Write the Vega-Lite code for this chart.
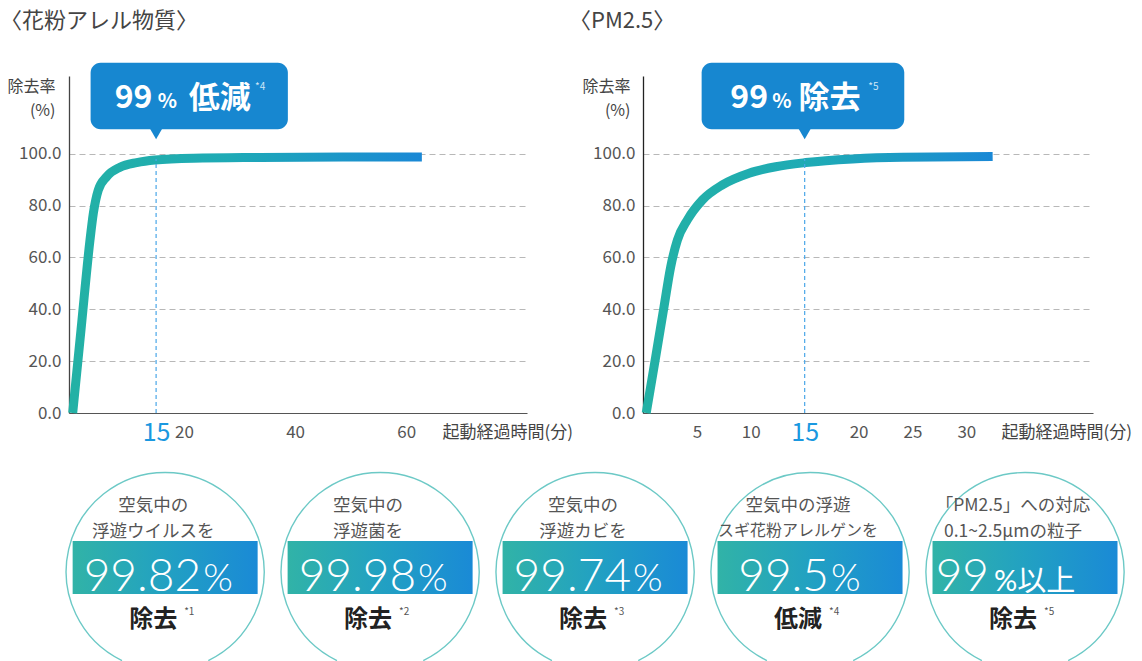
{
  "$schema": "https://vega.github.io/schema/vega-lite/v6.json",
  "background": "white",
  "padding": {"left": 0, "top": 9, "right": 0, "bottom": 0},
  "datasets": {
    "pollen": [
      {"minute": 0, "rate": 0},
      {"minute": 1.5, "rate": 32.2},
      {"minute": 3.11, "rate": 66.7},
      {"minute": 3.71, "rate": 77.0},
      {"minute": 4.6, "rate": 86.0},
      {"minute": 6.12, "rate": 91.2},
      {"minute": 8.51, "rate": 94.8},
      {"minute": 11.51, "rate": 96.6},
      {"minute": 14.8, "rate": 97.6},
      {"minute": 21.7, "rate": 98.3},
      {"minute": 33.7, "rate": 98.6},
      {"minute": 48.6, "rate": 98.8},
      {"minute": 62.8, "rate": 98.8}
    ],
    "pm25": [
      {"minute": 0.3, "rate": 0},
      {"minute": 1.18, "rate": 21.7},
      {"minute": 1.95, "rate": 41.0},
      {"minute": 2.57, "rate": 56.4},
      {"minute": 3.19, "rate": 66.7},
      {"minute": 4.12, "rate": 74.5},
      {"minute": 5.52, "rate": 82.2},
      {"minute": 7.37, "rate": 88.0},
      {"minute": 9.84, "rate": 92.5},
      {"minute": 12.32, "rate": 95.0},
      {"minute": 15.1, "rate": 96.6},
      {"minute": 19.44, "rate": 98.0},
      {"minute": 24.09, "rate": 98.65},
      {"minute": 32.44, "rate": 98.9}
    ],
    "callouts": [
      {"chart": "pollen", "minute": 15, "num": "99", "unit": "%", "verb": "低減", "note": "*4"},
      {"chart": "pm25", "minute": 15, "num": "99", "unit": "%", "verb": "除去", "note": "*5"}
    ],
    "badges": [
      {"slot": 1, "line1": "空気中の", "line2": "浮遊ウイルスを", "num": "99.82", "unit": "%", "verb": "除去", "note": "*1"},
      {"slot": 2, "line1": "空気中の", "line2": "浮遊菌を", "num": "99.98", "unit": "%", "verb": "除去", "note": "*2"},
      {"slot": 3, "line1": "空気中の", "line2": "浮遊カビを", "num": "99.74", "unit": "%", "verb": "除去", "note": "*3"},
      {"slot": 4, "line1": "空気中の浮遊", "line2": "スギ花粉アレルゲンを", "num": "99.5", "unit": "%", "verb": "低減", "note": "*4"},
      {"slot": 5, "line1": "「PM2.5」への対応", "line2": "0.1~2.5μmの粒子", "num": "99", "unit": "%以上", "verb": "除去", "note": "*5"}
    ]
  },
  "columns": 1,
  "align": "none",
  "spacing": 17,
  "concat": [
    {
      "bounds": "flush",
      "spacing": 116,
      "hconcat": [
        {
          "width": 458,
          "height": 337,
          "title": {"text": "〈花粉アレル物質〉", "anchor": "start", "frame": "group", "dx": -69, "offset": 30, "fontSize": 22, "fontWeight": "normal", "color": "#444", "font": "Noto Sans CJK JP"},
          "layer": [
            {
              "data": {"name": "pollen"},
              "mark": {"type": "line", "strokeWidth": 9, "strokeCap": "butt", "interpolate": "monotone",
                "stroke": {"gradient": "linear", "x1": 0, "y1": 0, "x2": 1, "y2": 0, "stops": [{"offset": 0, "color": "#23b1a5"}, {"offset": 0.45, "color": "#1eaab6"}, {"offset": 1, "color": "#1a88d6"}]}},
              "encoding": {
                "x": {"field": "minute", "type": "quantitative", "scale": {"domain": [-0.665, 81.71], "nice": false, "zero": false},
                  "axis": {"values": [15, 20, 40, 60], "title": "起動経過時間(分)", "titleX": 373, "titleY": 19.5, "titleAlign": "left", "titleBaseline": "middle", "titleFontSize": 17, "titleFontWeight": "normal", "titleColor": "#444",
                    "labelFontSize": {"condition": {"test": "datum.value === 15", "value": 25}, "value": 17},
                    "labelColor": {"condition": {"test": "datum.value === 15", "value": "#1a98e0"}, "value": "#555"},
                    "labelBaseline": "middle", "labelPadding": 19, "ticks": false, "grid": false, "domainColor": "#555", "domainWidth": 1.2, "labelFlush": false, "labelOverlap": false}},
                "y": {"field": "rate", "type": "quantitative", "scale": {"domain": [0, 130], "nice": false, "zero": true},
                  "axis": {"values": [0, 20, 40, 60, 80, 100], "format": ".1f", "title": ["除去率", "(%)"], "titleAngle": 0, "titleAlign": "right", "titleBaseline": "top", "titleX": -14, "titleY": 2, "titleFontSize": 16, "titleFontWeight": "normal", "titleColor": "#444", "titleLineHeight": 24,
                    "labelFontSize": 17, "labelColor": "#555", "labelPadding": 8, "ticks": false, "domainColor": "#444", "domainWidth": 1.3, "grid": true, "gridColor": "#b8b8b8", "gridDash": [6, 4], "gridWidth": 1}}
              }
            },
            {
              "data": {"name": "callouts"},
              "transform": [{"filter": "datum.chart === 'pollen'"}],
              "layer": [
                {"mark": {"type": "rule", "stroke": "#4aa6e8", "strokeWidth": 1.2, "strokeDash": [4, 3]},
                 "encoding": {"x": {"field": "minute", "type": "quantitative"}, "y": {"datum": 0, "type": "quantitative"}, "y2": {"datum": 98}}},
                {"mark": {"type": "rect", "cornerRadius": 10, "fill": "#1787d0"},
                 "encoding": {"x": {"datum": 3.22, "type": "quantitative"}, "x2": {"datum": 38.7}, "y": {"datum": 135.1, "type": "quantitative"}, "y2": {"datum": 109.5}}},
                {"mark": {"type": "point", "shape": "triangle-down", "size": 200, "filled": true, "color": "#1787d0", "opacity": 1},
                 "encoding": {"x": {"field": "minute", "type": "quantitative"}, "y": {"datum": 108, "type": "quantitative"}}},
                {"mark": {"type": "text", "align": "left", "baseline": "alphabetic", "fontSize": 32, "fontWeight": "bold", "color": "white", "font": "Noto Sans CJK JP"},
                 "encoding": {"x": {"datum": 7.55, "type": "quantitative"}, "y": {"datum": 117.7, "type": "quantitative"}, "text": {"field": "num"}}},
                {"mark": {"type": "text", "align": "left", "baseline": "alphabetic", "fontSize": 20, "fontWeight": "bold", "color": "white", "font": "Noto Sans CJK JP"},
                 "encoding": {"x": {"datum": 15.3, "type": "quantitative"}, "y": {"datum": 117.7, "type": "quantitative"}, "text": {"field": "unit"}}},
                {"mark": {"type": "text", "align": "left", "baseline": "alphabetic", "fontSize": 31, "fontWeight": "bold", "color": "white", "font": "Noto Sans CJK JP"},
                 "encoding": {"x": {"datum": 20.86, "type": "quantitative"}, "y": {"datum": 117.7, "type": "quantitative"}, "text": {"field": "verb"}}},
                {"mark": {"type": "text", "align": "left", "baseline": "alphabetic", "fontSize": 10, "color": "#cfe6f7", "font": "Noto Sans CJK JP"},
                 "encoding": {"x": {"datum": 32.8, "type": "quantitative"}, "y": {"datum": 124.6, "type": "quantitative"}, "text": {"field": "note"}}}
              ]
            }
          ]
        },
        {
          "width": 450,
          "height": 337,
          "title": {"text": "〈PM2.5〉", "anchor": "start", "frame": "group", "dx": -74, "offset": 30, "fontSize": 22, "fontWeight": "normal", "color": "#444", "font": "Noto Sans CJK JP"},
          "layer": [
            {
              "data": {"name": "pm25"},
              "mark": {"type": "line", "strokeWidth": 9, "strokeCap": "butt", "interpolate": "monotone",
                "stroke": {"gradient": "linear", "x1": 0, "y1": 0, "x2": 1, "y2": 0, "stops": [{"offset": 0, "color": "#23b1a5"}, {"offset": 0.5, "color": "#1eaab6"}, {"offset": 1, "color": "#1a88d6"}]}},
              "encoding": {
                "x": {"field": "minute", "type": "quantitative", "scale": {"domain": [0, 41.75], "nice": false, "zero": false},
                  "axis": {"values": [5, 10, 15, 20, 25, 30], "title": "起動経過時間(分)", "titleX": 358, "titleY": 19.5, "titleAlign": "left", "titleBaseline": "middle", "titleFontSize": 17, "titleFontWeight": "normal", "titleColor": "#444",
                    "labelFontSize": {"condition": {"test": "datum.value === 15", "value": 25}, "value": 17},
                    "labelColor": {"condition": {"test": "datum.value === 15", "value": "#1a98e0"}, "value": "#555"},
                    "labelBaseline": "middle", "labelPadding": 19, "ticks": false, "grid": false, "domainColor": "#555", "domainWidth": 1.2, "labelFlush": false, "labelOverlap": false}},
                "y": {"field": "rate", "type": "quantitative", "scale": {"domain": [0, 130], "nice": false, "zero": true},
                  "axis": {"values": [0, 20, 40, 60, 80, 100], "format": ".1f", "title": ["除去率", "(%)"], "titleAngle": 0, "titleAlign": "right", "titleBaseline": "top", "titleX": -13, "titleY": 2, "titleFontSize": 16, "titleFontWeight": "normal", "titleColor": "#444", "titleLineHeight": 24,
                    "labelFontSize": 17, "labelColor": "#555", "labelPadding": 8, "ticks": false, "domainColor": "#222", "domainWidth": 1.3, "grid": true, "gridColor": "#b8b8b8", "gridDash": [6, 4], "gridWidth": 1}}
              }
            },
            {
              "data": {"name": "callouts"},
              "transform": [{"filter": "datum.chart === 'pm25'"}],
              "layer": [
                {"mark": {"type": "rule", "stroke": "#4aa6e8", "strokeWidth": 1.2, "strokeDash": [4, 3]},
                 "encoding": {"x": {"field": "minute", "type": "quantitative"}, "y": {"datum": 0, "type": "quantitative"}, "y2": {"datum": 98}}},
                {"mark": {"type": "rect", "cornerRadius": 10, "fill": "#1787d0"},
                 "encoding": {"x": {"datum": 5.44, "type": "quantitative"}, "x2": {"datum": 24.24}, "y": {"datum": 135.1, "type": "quantitative"}, "y2": {"datum": 109.5}}},
                {"mark": {"type": "point", "shape": "triangle-down", "size": 200, "filled": true, "color": "#1787d0", "opacity": 1},
                 "encoding": {"x": {"field": "minute", "type": "quantitative"}, "y": {"datum": 108, "type": "quantitative"}}},
                {"mark": {"type": "text", "align": "left", "baseline": "alphabetic", "fontSize": 32, "fontWeight": "bold", "color": "white", "font": "Noto Sans CJK JP"},
                 "encoding": {"x": {"datum": 8.1, "type": "quantitative"}, "y": {"datum": 117.7, "type": "quantitative"}, "text": {"field": "num"}}},
                {"mark": {"type": "text", "align": "left", "baseline": "alphabetic", "fontSize": 20, "fontWeight": "bold", "color": "white", "font": "Noto Sans CJK JP"},
                 "encoding": {"x": {"datum": 12.0, "type": "quantitative"}, "y": {"datum": 117.7, "type": "quantitative"}, "text": {"field": "unit"}}},
                {"mark": {"type": "text", "align": "left", "baseline": "alphabetic", "fontSize": 31, "fontWeight": "bold", "color": "white", "font": "Noto Sans CJK JP"},
                 "encoding": {"x": {"datum": 14.42, "type": "quantitative"}, "y": {"datum": 117.7, "type": "quantitative"}, "text": {"field": "verb"}}},
                {"mark": {"type": "text", "align": "left", "baseline": "alphabetic", "fontSize": 10, "color": "#cfe6f7", "font": "Noto Sans CJK JP"},
                 "encoding": {"x": {"datum": 20.9, "type": "quantitative"}, "y": {"datum": 124.6, "type": "quantitative"}, "text": {"field": "note"}}}
              ]
            }
          ]
        }
      ]
    },
    {
      "width": 1070,
      "height": 199,
      "data": {"name": "badges"},
      "encoding": {
        "x": {"field": "slot", "type": "quantitative", "scale": {"domain": [0.576, 5.507], "nice": false, "zero": false}, "axis": null}
      },
      "layer": [
        {"mark": {"type": "point", "shape": "M -0.4359,0.9 A 1,1 0 1,1 0.4359,0.9", "size": 39204, "filled": true, "fill": "white", "stroke": "#6cc9c6", "strokeWidth": 1.4, "opacity": 1},
         "encoding": {"y": {"datum": 89.5, "type": "quantitative", "scale": {"domain": [0, 199], "nice": false, "zero": false}, "axis": null}}},
        {"mark": {"type": "bar", "width": 185,
           "fill": {"gradient": "linear", "x1": 0, "y1": 0, "x2": 1, "y2": 0, "stops": [{"offset": 0, "color": "#31b3a7"}, {"offset": 0.5, "color": "#22a1c2"}, {"offset": 1, "color": "#1a8ad6"}]}},
         "encoding": {"y": {"datum": 67, "type": "quantitative"}, "y2": {"datum": 120}}},
        {"mark": {"type": "text", "fontSize": 17.5, "color": "#555", "dx": -12, "baseline": "middle", "font": "Noto Sans CJK JP"},
         "encoding": {"y": {"datum": 155, "type": "quantitative"}, "text": {"field": "line1"}}},
        {"transform": [{"filter": "datum.slot !== 4"}],
         "mark": {"type": "text", "fontSize": 17.5, "color": "#555", "dx": -12, "baseline": "middle", "font": "Noto Sans CJK JP"},
         "encoding": {"y": {"datum": 129.5, "type": "quantitative"}, "text": {"field": "line2"}}},
        {"transform": [{"filter": "datum.slot === 4"}],
         "mark": {"type": "text", "fontSize": 16, "color": "#555", "dx": -12, "baseline": "middle", "font": "Noto Sans CJK JP"},
         "encoding": {"y": {"datum": 130.5, "type": "quantitative"}, "text": {"field": "line2"}}},
        {"transform": [{"filter": "datum.slot <= 3"}],
         "mark": {"type": "text", "fontSize": 46, "fontWeight": 300, "color": "white", "align": "right", "dx": 36, "baseline": "alphabetic", "font": "Lato"},
         "encoding": {"y": {"datum": 70, "type": "quantitative"}, "text": {"field": "num"}}},
        {"transform": [{"filter": "datum.slot <= 3"}],
         "mark": {"type": "text", "fontSize": 38, "fontWeight": 300, "color": "white", "align": "left", "dx": 38, "baseline": "alphabetic", "font": "Lato"},
         "encoding": {"y": {"datum": 70, "type": "quantitative"}, "text": {"field": "unit"}}},
        {"transform": [{"filter": "datum.slot === 4"}],
         "mark": {"type": "text", "fontSize": 46, "fontWeight": 300, "color": "white", "align": "right", "dx": 19, "baseline": "alphabetic", "font": "Lato"},
         "encoding": {"y": {"datum": 70, "type": "quantitative"}, "text": {"field": "num"}}},
        {"transform": [{"filter": "datum.slot === 4"}],
         "mark": {"type": "text", "fontSize": 38, "fontWeight": 300, "color": "white", "align": "left", "dx": 21, "baseline": "alphabetic", "font": "Lato"},
         "encoding": {"y": {"datum": 70, "type": "quantitative"}, "text": {"field": "unit"}}},
        {"transform": [{"filter": "datum.slot === 5"}],
         "mark": {"type": "text", "fontSize": 46, "fontWeight": 300, "color": "white", "align": "right", "dx": -36, "baseline": "alphabetic", "font": "Lato"},
         "encoding": {"y": {"datum": 70, "type": "quantitative"}, "text": {"field": "num"}}},
        {"transform": [{"filter": "datum.slot === 5"}],
         "mark": {"type": "text", "fontSize": 29, "fontWeight": 400, "color": "white", "align": "left", "dx": -31, "baseline": "alphabetic", "font": "Lato, Noto Sans CJK JP"},
         "encoding": {"y": {"datum": 70, "type": "quantitative"}, "text": {"field": "unit"}}},
        {"mark": {"type": "text", "fontSize": 24, "fontWeight": "bold", "color": "#222", "align": "right", "dx": 12, "baseline": "middle", "font": "Noto Sans CJK JP"},
         "encoding": {"y": {"datum": 41, "type": "quantitative"}, "text": {"field": "verb"}}},
        {"mark": {"type": "text", "fontSize": 10, "color": "#555", "align": "left", "dx": 19, "baseline": "middle", "font": "Noto Sans CJK JP"},
         "encoding": {"y": {"datum": 49, "type": "quantitative"}, "text": {"field": "note"}}}
      ]
    }
  ],
  "config": {
    "view": {"stroke": null},
    "font": "Noto Sans CJK JP",
    "axis": {"labelFont": "Noto Sans CJK JP", "titleFont": "Noto Sans CJK JP"}
  }
}
